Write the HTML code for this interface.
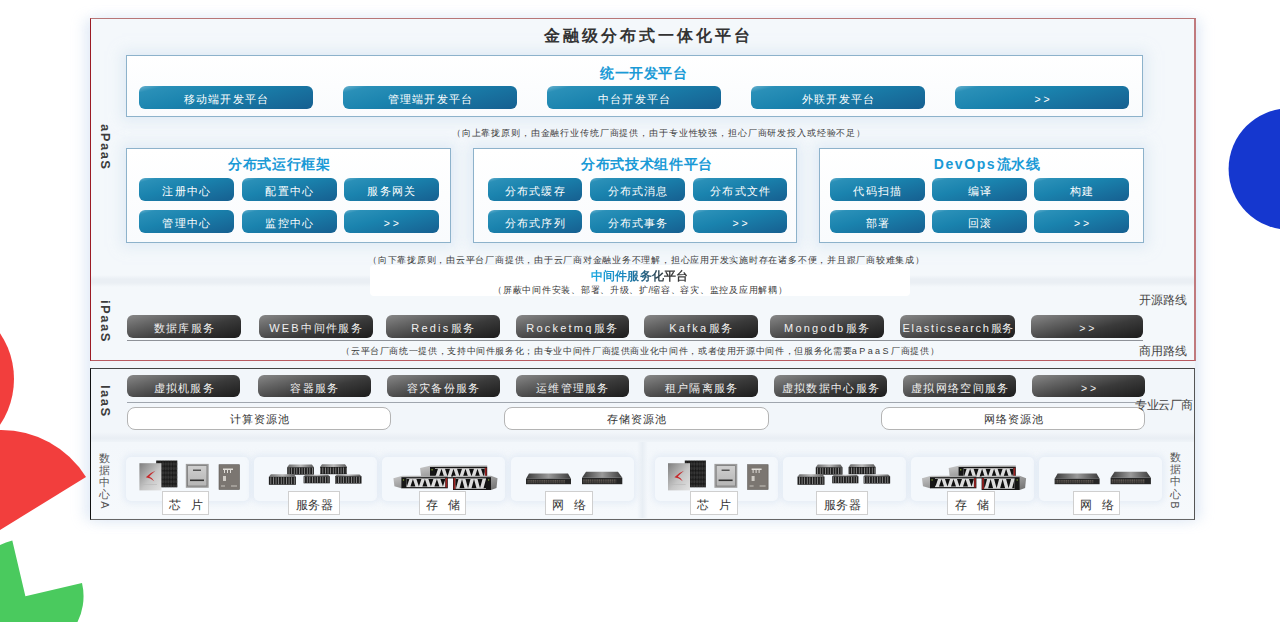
<!DOCTYPE html>
<html><head><meta charset="utf-8"><title>金融级分布式一体化平台</title>
<style>
html,body{margin:0;padding:0;}
body{width:1280px;height:622px;overflow:hidden;background:#fff;position:relative;font-family:"Liberation Sans",sans-serif;}
i{display:inline-block;font-style:normal;text-align:center;}
b.l{font-weight:inherit;}
.a{position:absolute;}
.bb,.db{position:absolute;border-radius:6px;color:#fff;font-size:11px;line-height:26px;text-align:center;white-space:nowrap;}
.bb{background:linear-gradient(165deg,#6cb3cf 0%,#2a90b8 10%,#1a83ae 40%,#165f90 100%);}
.db{color:#f0f0f0;background:linear-gradient(166deg,#888 0%,#666 25%,#3a3a3a 60%,#1c1c1c 100%);}
.ttl{position:absolute;color:#1a9ad6;font-weight:bold;font-size:14px;white-space:nowrap;text-align:center;line-height:16px;}
.note{position:absolute;color:#3a3a3a;font-size:9px;white-space:nowrap;text-align:center;line-height:11px;}
.ibox{position:absolute;border:1px solid #8db2cb;background:linear-gradient(#fff,#f9fbfd);box-shadow:0 0 12px 4px rgba(208,224,240,0.55);}
.vt{position:absolute;color:#3c3c3c;font-weight:bold;font-size:13px;letter-spacing:1.5px;transform-origin:0 0;transform:rotate(90deg);white-space:nowrap;line-height:14px;}
.vc{position:absolute;color:#555;font-size:11px;line-height:12.2px;text-align:center;width:14px;}
.pool{position:absolute;border:1px solid #b4b4b4;border-radius:8px;background:#fff;color:#333;font-size:11px;line-height:23px;text-align:center;white-space:nowrap;}
.card{position:absolute;top:457px;height:44px;border-radius:5px;background:#f4f8fc;box-shadow:0 0 6px 2px rgba(220,230,242,0.7);}
.lab{position:absolute;top:491.3px;height:21.8px;border:1px solid #cfcfcf;background:#fff;color:#333;font-size:12px;line-height:26px;text-align:center;white-space:nowrap;}
.side{position:absolute;color:#444;font-size:12px;line-height:14px;white-space:nowrap;}
</style></head><body>
<div class="a" style="left:90px;top:19px;width:1105px;height:501px;box-shadow:-6px 0 12px 0 rgba(222,232,245,0.8),6px 0 12px 0 rgba(222,232,245,0.8);background:#f1f5f9;"></div>
<div class="a" style="left:89.5px;top:18px;width:1103.5px;height:340.5px;border-style:solid;border-width:1.6px 2px 1.5px 1.5px;border-color:#b87676 #c07a7e #b85a60 #9c1c24;background:#f4f8fb;"></div>
<div class="a" style="left:90px;top:27px;width:1114.5px;text-align:center;font-size:16px;line-height:18px;font-weight:bold;color:#333;"><i style="width:19px">金</i><i style="width:19px">融</i><i style="width:19px">级</i><i style="width:19px">分</i><i style="width:19px">布</i><i style="width:19px">式</i><i style="width:19px">一</i><i style="width:19px">体</i><i style="width:19px">化</i><i style="width:19px">平</i><i style="width:19px">台</i></div>
<div class="ibox" style="left:126.2px;top:54.5px;width:1015.2px;height:60.7px;"></div>
<div class="ttl" style="left:543.5px;top:65px;width:200px;"><i style="width:14.6px">统</i><i style="width:14.6px">一</i><i style="width:14.6px">开</i><i style="width:14.6px">发</i><i style="width:14.6px">平</i><i style="width:14.6px">台</i></div>
<div class="bb" style="left:139px;top:86px;width:174px;height:23px;"><i style="width:12.3px">移</i><i style="width:12.3px">动</i><i style="width:12.3px">端</i><i style="width:12.3px">开</i><i style="width:12.3px">发</i><i style="width:12.3px">平</i><i style="width:12.3px">台</i></div>
<div class="bb" style="left:343px;top:86px;width:174px;height:23px;"><i style="width:12.3px">管</i><i style="width:12.3px">理</i><i style="width:12.3px">端</i><i style="width:12.3px">开</i><i style="width:12.3px">发</i><i style="width:12.3px">平</i><i style="width:12.3px">台</i></div>
<div class="bb" style="left:547px;top:86px;width:174px;height:23px;"><i style="width:12.3px">中</i><i style="width:12.3px">台</i><i style="width:12.3px">开</i><i style="width:12.3px">发</i><i style="width:12.3px">平</i><i style="width:12.3px">台</i></div>
<div class="bb" style="left:751px;top:86px;width:174px;height:23px;"><i style="width:12.3px">外</i><i style="width:12.3px">联</i><i style="width:12.3px">开</i><i style="width:12.3px">发</i><i style="width:12.3px">平</i><i style="width:12.3px">台</i></div>
<div class="bb" style="left:955px;top:86px;width:174px;height:23px;"><span style="font-size:10.5px">&gt; &gt;</span></div>
<div class="note" style="left:402.5px;top:127.5px;width:512px;"><i style="width:9.87px">（</i><i style="width:9.87px">向</i><i style="width:9.87px">上</i><i style="width:9.87px">靠</i><i style="width:9.87px">拢</i><i style="width:9.87px">原</i><i style="width:9.87px">则</i><i style="width:9.87px">，</i><i style="width:9.87px">由</i><i style="width:9.87px">金</i><i style="width:9.87px">融</i><i style="width:9.87px">行</i><i style="width:9.87px">业</i><i style="width:9.87px">传</i><i style="width:9.87px">统</i><i style="width:9.87px">厂</i><i style="width:9.87px">商</i><i style="width:9.87px">提</i><i style="width:9.87px">供</i><i style="width:9.87px">，</i><i style="width:9.87px">由</i><i style="width:9.87px">于</i><i style="width:9.87px">专</i><i style="width:9.87px">业</i><i style="width:9.87px">性</i><i style="width:9.87px">较</i><i style="width:9.87px">强</i><i style="width:9.87px">，</i><i style="width:9.87px">担</i><i style="width:9.87px">心</i><i style="width:9.87px">厂</i><i style="width:9.87px">商</i><i style="width:9.87px">研</i><i style="width:9.87px">发</i><i style="width:9.87px">投</i><i style="width:9.87px">入</i><i style="width:9.87px">或</i><i style="width:9.87px">经</i><i style="width:9.87px">验</i><i style="width:9.87px">不</i><i style="width:9.87px">足</i><i style="width:9.87px">）</i></div>
<div class="ibox" style="left:126.2px;top:148px;width:323.3px;height:92.6px;"></div>
<div class="ttl" style="left:129px;top:155.5px;width:300px;"><i style="width:14.7px">分</i><i style="width:14.7px">布</i><i style="width:14.7px">式</i><i style="width:14.7px">运</i><i style="width:14.7px">行</i><i style="width:14.7px">框</i><i style="width:14.7px">架</i></div>
<div class="bb" style="left:139px;top:178px;width:94.5px;height:23px;"><i style="width:12.2px">注</i><i style="width:12.2px">册</i><i style="width:12.2px">中</i><i style="width:12.2px">心</i></div>
<div class="bb" style="left:242px;top:178px;width:94.5px;height:23px;"><i style="width:12.2px">配</i><i style="width:12.2px">置</i><i style="width:12.2px">中</i><i style="width:12.2px">心</i></div>
<div class="bb" style="left:344px;top:178px;width:94.5px;height:23px;"><i style="width:12.2px">服</i><i style="width:12.2px">务</i><i style="width:12.2px">网</i><i style="width:12.2px">关</i></div>
<div class="bb" style="left:139px;top:210px;width:94.5px;height:23px;"><i style="width:12.2px">管</i><i style="width:12.2px">理</i><i style="width:12.2px">中</i><i style="width:12.2px">心</i></div>
<div class="bb" style="left:242px;top:210px;width:94.5px;height:23px;"><i style="width:12.2px">监</i><i style="width:12.2px">控</i><i style="width:12.2px">中</i><i style="width:12.2px">心</i></div>
<div class="bb" style="left:344px;top:210px;width:94.5px;height:23px;"><span style="font-size:10.5px">&gt; &gt;</span></div>
<div class="ibox" style="left:473.4px;top:148px;width:322.1px;height:92.6px;"></div>
<div class="ttl" style="left:496.70000000000005px;top:155.5px;width:300px;"><i style="width:14.7px">分</i><i style="width:14.7px">布</i><i style="width:14.7px">式</i><i style="width:14.7px">技</i><i style="width:14.7px">术</i><i style="width:14.7px">组</i><i style="width:14.7px">件</i><i style="width:14.7px">平</i><i style="width:14.7px">台</i></div>
<div class="bb" style="left:487.5px;top:178px;width:94.5px;height:23px;"><i style="width:12.2px">分</i><i style="width:12.2px">布</i><i style="width:12.2px">式</i><i style="width:12.2px">缓</i><i style="width:12.2px">存</i></div>
<div class="bb" style="left:590.3px;top:178px;width:94.5px;height:23px;"><i style="width:12.2px">分</i><i style="width:12.2px">布</i><i style="width:12.2px">式</i><i style="width:12.2px">消</i><i style="width:12.2px">息</i></div>
<div class="bb" style="left:692.8px;top:178px;width:94.5px;height:23px;"><i style="width:12.2px">分</i><i style="width:12.2px">布</i><i style="width:12.2px">式</i><i style="width:12.2px">文</i><i style="width:12.2px">件</i></div>
<div class="bb" style="left:487.5px;top:210px;width:94.5px;height:23px;"><i style="width:12.2px">分</i><i style="width:12.2px">布</i><i style="width:12.2px">式</i><i style="width:12.2px">序</i><i style="width:12.2px">列</i></div>
<div class="bb" style="left:590.3px;top:210px;width:94.5px;height:23px;"><i style="width:12.2px">分</i><i style="width:12.2px">布</i><i style="width:12.2px">式</i><i style="width:12.2px">事</i><i style="width:12.2px">务</i></div>
<div class="bb" style="left:692.8px;top:210px;width:94.5px;height:23px;"><span style="font-size:10.5px">&gt; &gt;</span></div>
<div class="ibox" style="left:819.4px;top:148px;width:322.3px;height:92.6px;"></div>
<div class="ttl" style="left:837px;top:155.5px;width:300px;"><b class="l" style="letter-spacing:1.6px">DevOps</b><i style="width:14.7px">流</i><i style="width:14.7px">水</i><i style="width:14.7px">线</i></div>
<div class="bb" style="left:830px;top:178px;width:94.5px;height:23px;"><i style="width:12.2px">代</i><i style="width:12.2px">码</i><i style="width:12.2px">扫</i><i style="width:12.2px">描</i></div>
<div class="bb" style="left:932.2px;top:178px;width:94.5px;height:23px;"><i style="width:12.2px">编</i><i style="width:12.2px">译</i></div>
<div class="bb" style="left:1034.4px;top:178px;width:94.5px;height:23px;"><i style="width:12.2px">构</i><i style="width:12.2px">建</i></div>
<div class="bb" style="left:830px;top:210px;width:94.5px;height:23px;"><i style="width:12.2px">部</i><i style="width:12.2px">署</i></div>
<div class="bb" style="left:932.2px;top:210px;width:94.5px;height:23px;"><i style="width:12.2px">回</i><i style="width:12.2px">滚</i></div>
<div class="bb" style="left:1034.4px;top:210px;width:94.5px;height:23px;"><span style="font-size:10.5px">&gt; &gt;</span></div>
<div class="a" style="left:91px;top:275px;width:1103px;height:12px;background:linear-gradient(rgba(232,237,243,0),#eaeff4 35%,#eaeff4 65%,rgba(232,237,243,0));"></div>
<div class="note" style="left:342px;top:254.5px;width:608px;"><i style="width:9.77px">（</i><i style="width:9.77px">向</i><i style="width:9.77px">下</i><i style="width:9.77px">靠</i><i style="width:9.77px">拢</i><i style="width:9.77px">原</i><i style="width:9.77px">则</i><i style="width:9.77px">，</i><i style="width:9.77px">由</i><i style="width:9.77px">云</i><i style="width:9.77px">平</i><i style="width:9.77px">台</i><i style="width:9.77px">厂</i><i style="width:9.77px">商</i><i style="width:9.77px">提</i><i style="width:9.77px">供</i><i style="width:9.77px">，</i><i style="width:9.77px">由</i><i style="width:9.77px">于</i><i style="width:9.77px">云</i><i style="width:9.77px">厂</i><i style="width:9.77px">商</i><i style="width:9.77px">对</i><i style="width:9.77px">金</i><i style="width:9.77px">融</i><i style="width:9.77px">业</i><i style="width:9.77px">务</i><i style="width:9.77px">不</i><i style="width:9.77px">理</i><i style="width:9.77px">解</i><i style="width:9.77px">，</i><i style="width:9.77px">担</i><i style="width:9.77px">心</i><i style="width:9.77px">应</i><i style="width:9.77px">用</i><i style="width:9.77px">开</i><i style="width:9.77px">发</i><i style="width:9.77px">实</i><i style="width:9.77px">施</i><i style="width:9.77px">时</i><i style="width:9.77px">存</i><i style="width:9.77px">在</i><i style="width:9.77px">诸</i><i style="width:9.77px">多</i><i style="width:9.77px">不</i><i style="width:9.77px">便</i><i style="width:9.77px">，</i><i style="width:9.77px">并</i><i style="width:9.77px">且</i><i style="width:9.77px">跟</i><i style="width:9.77px">厂</i><i style="width:9.77px">商</i><i style="width:9.77px">较</i><i style="width:9.77px">难</i><i style="width:9.77px">集</i><i style="width:9.77px">成</i><i style="width:9.77px">）</i></div>
<div class="a" style="left:370px;top:265px;width:540px;height:31px;background:#fff;border-radius:4px;"></div>
<div class="a" style="left:591px;top:269px;width:97px;text-align:center;font-size:12px;font-weight:bold;line-height:14px;white-space:nowrap;background:linear-gradient(90deg,#1ba9e2 0%,#1a86bd 35%,#245a78 58%,#333 78%,#3a3a3a 100%);-webkit-background-clip:text;background-clip:text;color:transparent;"><i style="width:12.1px">中</i><i style="width:12.1px">间</i><i style="width:12.1px">件</i><i style="width:12.1px">服</i><i style="width:12.1px">务</i><i style="width:12.1px">化</i><i style="width:12.1px">平</i><i style="width:12.1px">台</i></div>
<div class="note" style="left:370px;top:285px;width:540px;"><i style="width:9.72px">（</i><i style="width:9.72px">屏</i><i style="width:9.72px">蔽</i><i style="width:9.72px">中</i><i style="width:9.72px">间</i><i style="width:9.72px">件</i><i style="width:9.72px">安</i><i style="width:9.72px">装</i><i style="width:9.72px">、</i><i style="width:9.72px">部</i><i style="width:9.72px">署</i><i style="width:9.72px">、</i><i style="width:9.72px">升</i><i style="width:9.72px">级</i><i style="width:9.72px">、</i><i style="width:9.72px">扩</i>/<i style="width:9.72px">缩</i><i style="width:9.72px">容</i><i style="width:9.72px">、</i><i style="width:9.72px">容</i><i style="width:9.72px">灾</i><i style="width:9.72px">、</i><i style="width:9.72px">监</i><i style="width:9.72px">控</i><i style="width:9.72px">及</i><i style="width:9.72px">应</i><i style="width:9.72px">用</i><i style="width:9.72px">解</i><i style="width:9.72px">耦</i><i style="width:9.72px">）</i></div>
<div class="db" style="left:127px;top:315px;width:113.5px;height:23px;"><i style="width:12.3px">数</i><i style="width:12.3px">据</i><i style="width:12.3px">库</i><i style="width:12.3px">服</i><i style="width:12.3px">务</i></div>
<div class="db" style="left:259px;top:315px;width:113.5px;height:23px;"><b class="l" style="letter-spacing:2.2px">WEB</b><i style="width:12.3px">中</i><i style="width:12.3px">间</i><i style="width:12.3px">件</i><i style="width:12.3px">服</i><i style="width:12.3px">务</i></div>
<div class="db" style="left:386.3px;top:315px;width:113.7px;height:23px;"><b class="l" style="letter-spacing:2.2px">Redis</b><i style="width:12.3px">服</i><i style="width:12.3px">务</i></div>
<div class="db" style="left:515.6px;top:315px;width:113.2px;height:23px;"><b class="l" style="letter-spacing:2.2px">Rocketmq</b><i style="width:12.3px">服</i><i style="width:12.3px">务</i></div>
<div class="db" style="left:644.4px;top:315px;width:113.4px;height:23px;"><b class="l" style="letter-spacing:2.2px">Kafka</b><i style="width:12.3px">服</i><i style="width:12.3px">务</i></div>
<div class="db" style="left:770.3px;top:315px;width:113.5px;height:23px;"><b class="l" style="letter-spacing:2.2px">Mongodb</b><i style="width:12.3px">服</i><i style="width:12.3px">务</i></div>
<div class="db" style="left:900px;top:315px;width:115.2px;height:23px;"><b class="l" style="letter-spacing:1.75px">Elasticsearch</b><i style="width:11px">服</i><i style="width:11px">务</i></div>
<div class="db" style="left:1030.5px;top:315px;width:112.8px;height:23px;"><span style="font-size:10.5px">&gt; &gt;</span></div>
<div class="a" style="left:127px;top:339.7px;width:1016px;height:1.3px;background:#8e9298;"></div>
<div class="note" style="left:303px;top:346px;width:674px;"><i style="width:9.65px">（</i><i style="width:9.65px">云</i><i style="width:9.65px">平</i><i style="width:9.65px">台</i><i style="width:9.65px">厂</i><i style="width:9.65px">商</i><i style="width:9.65px">统</i><i style="width:9.65px">一</i><i style="width:9.65px">提</i><i style="width:9.65px">供</i><i style="width:9.65px">，</i><i style="width:9.65px">支</i><i style="width:9.65px">持</i><i style="width:9.65px">中</i><i style="width:9.65px">间</i><i style="width:9.65px">件</i><i style="width:9.65px">服</i><i style="width:9.65px">务</i><i style="width:9.65px">化</i><i style="width:9.65px">；</i><i style="width:9.65px">由</i><i style="width:9.65px">专</i><i style="width:9.65px">业</i><i style="width:9.65px">中</i><i style="width:9.65px">间</i><i style="width:9.65px">件</i><i style="width:9.65px">厂</i><i style="width:9.65px">商</i><i style="width:9.65px">提</i><i style="width:9.65px">供</i><i style="width:9.65px">商</i><i style="width:9.65px">业</i><i style="width:9.65px">化</i><i style="width:9.65px">中</i><i style="width:9.65px">间</i><i style="width:9.65px">件</i><i style="width:9.65px">，</i><i style="width:9.65px">或</i><i style="width:9.65px">者</i><i style="width:9.65px">使</i><i style="width:9.65px">用</i><i style="width:9.65px">开</i><i style="width:9.65px">源</i><i style="width:9.65px">中</i><i style="width:9.65px">间</i><i style="width:9.65px">件</i><i style="width:9.65px">，</i><i style="width:9.65px">但</i><i style="width:9.65px">服</i><i style="width:9.65px">务</i><i style="width:9.65px">化</i><i style="width:9.65px">需</i><i style="width:9.65px">要</i><b class="l" style="letter-spacing:2.4px">aPaaS</b><i style="width:9.65px">厂</i><i style="width:9.65px">商</i><i style="width:9.65px">提</i><i style="width:9.65px">供</i><i style="width:9.65px">）</i></div>
<div class="side" style="left:1139px;top:293px;"><i style="width:12px">开</i><i style="width:12px">源</i><i style="width:12px">路</i><i style="width:12px">线</i></div>
<div class="side" style="left:1139px;top:344px;"><i style="width:12px">商</i><i style="width:12px">用</i><i style="width:12px">路</i><i style="width:12px">线</i></div>
<div class="a" style="left:89.7px;top:367.6px;width:1103.5px;height:150.5px;border-style:solid;border-width:1.5px 1.5px 1.6px 1.3px;border-color:#444 #555 #666 #111;background:#f2f6fa;"></div>
<div class="a" style="left:91px;top:432px;width:1103px;height:12px;background:linear-gradient(rgba(234,240,245,0),#e9eef4 50%,rgba(234,240,245,0));"></div>
<div class="a" style="left:91px;top:442px;width:1103px;height:76px;background:linear-gradient(#f3f7fb,#f6f9fc);"></div>
<div class="a" style="left:637px;top:442px;width:11px;height:76px;background:linear-gradient(90deg,rgba(233,239,245,0),#e8eef4 50%,rgba(233,239,245,0));"></div>
<div class="db" style="left:127px;top:375px;width:113.4px;height:22px;"><i style="width:12.3px">虚</i><i style="width:12.3px">拟</i><i style="width:12.3px">机</i><i style="width:12.3px">服</i><i style="width:12.3px">务</i></div>
<div class="db" style="left:257.5px;top:375px;width:113.5px;height:22px;"><i style="width:12.3px">容</i><i style="width:12.3px">器</i><i style="width:12.3px">服</i><i style="width:12.3px">务</i></div>
<div class="db" style="left:386.6px;top:375px;width:113.1px;height:22px;"><i style="width:12.3px">容</i><i style="width:12.3px">灾</i><i style="width:12.3px">备</i><i style="width:12.3px">份</i><i style="width:12.3px">服</i><i style="width:12.3px">务</i></div>
<div class="db" style="left:515.6px;top:375px;width:113.2px;height:22px;"><i style="width:12.3px">运</i><i style="width:12.3px">维</i><i style="width:12.3px">管</i><i style="width:12.3px">理</i><i style="width:12.3px">服</i><i style="width:12.3px">务</i></div>
<div class="db" style="left:644.4px;top:375px;width:113.4px;height:22px;"><i style="width:12.3px">租</i><i style="width:12.3px">户</i><i style="width:12.3px">隔</i><i style="width:12.3px">离</i><i style="width:12.3px">服</i><i style="width:12.3px">务</i></div>
<div class="db" style="left:774px;top:375px;width:112.9px;height:22px;"><i style="width:12.3px">虚</i><i style="width:12.3px">拟</i><i style="width:12.3px">数</i><i style="width:12.3px">据</i><i style="width:12.3px">中</i><i style="width:12.3px">心</i><i style="width:12.3px">服</i><i style="width:12.3px">务</i></div>
<div class="db" style="left:903px;top:375px;width:113.3px;height:22px;"><i style="width:12.3px">虚</i><i style="width:12.3px">拟</i><i style="width:12.3px">网</i><i style="width:12.3px">络</i><i style="width:12.3px">空</i><i style="width:12.3px">间</i><i style="width:12.3px">服</i><i style="width:12.3px">务</i></div>
<div class="db" style="left:1032px;top:375px;width:113px;height:22px;"><span style="font-size:10.5px">&gt; &gt;</span></div>
<div class="a" style="left:127px;top:401.5px;width:1018px;height:1.5px;background:#a0a6ae;"></div>
<div class="pool" style="left:127px;top:406.5px;width:262.3px;height:21.5px;"><i style="width:12px">计</i><i style="width:12px">算</i><i style="width:12px">资</i><i style="width:12px">源</i><i style="width:12px">池</i></div>
<div class="pool" style="left:503.7px;top:406.5px;width:263px;height:21.5px;"><i style="width:12px">存</i><i style="width:12px">储</i><i style="width:12px">资</i><i style="width:12px">源</i><i style="width:12px">池</i></div>
<div class="pool" style="left:880.7px;top:406.5px;width:262.8px;height:21.5px;"><i style="width:12px">网</i><i style="width:12px">络</i><i style="width:12px">资</i><i style="width:12px">源</i><i style="width:12px">池</i></div>
<div class="side" style="left:1135px;top:398px;"><i style="width:11.6px">专</i><i style="width:11.6px">业</i><i style="width:11.6px">云</i><i style="width:11.6px">厂</i><i style="width:11.6px">商</i></div>
<div class="vt" style="left:112px;top:124px;">aPaaS</div>
<div class="vt" style="left:112px;top:300px;">iPaaS</div>
<div class="vt" style="left:112px;top:385px;">IaaS</div>
<div class="card" style="left:126px;width:123px;"></div>
<div class="card" style="left:254px;width:123px;"></div>
<div class="card" style="left:382px;width:123px;"></div>
<div class="card" style="left:510.7px;width:123px;"></div>
<div class="card" style="left:654.6px;width:123px;"></div>
<div class="card" style="left:782.6px;width:123px;"></div>
<div class="card" style="left:910.5px;width:123px;"></div>
<div class="card" style="left:1039px;width:123px;"></div>
<svg class="a" style="left:0;top:0" width="1280" height="622"><defs>
<linearGradient id="glid" x1="0" y1="0" x2="1" y2="0"><stop offset="0" stop-color="#6a6a6a"/><stop offset="0.5" stop-color="#b8b8b8"/><stop offset="1" stop-color="#5a5a5a"/></linearGradient>
<linearGradient id="gside" x1="0" y1="0" x2="1" y2="1"><stop offset="0" stop-color="#c8c8c8"/><stop offset="1" stop-color="#6e6e6e"/></linearGradient>
<linearGradient id="gsilver" x1="0" y1="0" x2="1" y2="1"><stop offset="0" stop-color="#7e7e7e"/><stop offset="0.55" stop-color="#c6c6c6"/><stop offset="1" stop-color="#e2e2e2"/></linearGradient>
<linearGradient id="gchip3" x1="0" y1="0" x2="0" y2="1"><stop offset="0" stop-color="#cfcfcf"/><stop offset="1" stop-color="#b5b5b5"/></linearGradient>
<linearGradient id="gsw" x1="0" y1="0" x2="1" y2="0"><stop offset="0" stop-color="#3a3a3a"/><stop offset="0.5" stop-color="#9a9a9a"/><stop offset="1" stop-color="#3a3a3a"/></linearGradient>
<pattern id="pstripe" width="2.6" height="10" patternUnits="userSpaceOnUse"><rect width="0.9" height="10" fill="#8a8a8a"/></pattern>
<pattern id="pgrid" width="2.7" height="4.4" patternUnits="userSpaceOnUse"><rect x="0.5" y="0.4" width="0.9" height="3.4" fill="#4e4e4e"/><rect x="1.6" y="1.2" width="0.6" height="1.6" fill="#3a3a3a"/></pattern>
<pattern id="pport" width="2.2" height="3" patternUnits="userSpaceOnUse"><rect x="0.3" y="0.3" width="1.4" height="1.1" fill="#7a7066"/><rect x="0.3" y="1.7" width="1.4" height="1" fill="#5e5750"/></pattern>
</defs><g id="dcA"><rect x="156.2" y="460.6" width="21.1" height="26.7" fill="#181818"/><rect x="156.2" y="460.6" width="21.1" height="26.7" fill="url(#pgrid)"/><rect x="139.4" y="463.2" width="22" height="27.2" fill="url(#gsilver)"/><path d="M155.4 470.8 Q149.5 473 145.8 477.2 Q150.5 477.6 154.2 481.2 Q152.2 477.4 149.2 476.4 Q152 473.8 155.4 470.8 Z" fill="#c62a2c"/><rect x="143" y="484" width="14" height="0.6" fill="#b8b8b8"/><rect x="185.8" y="463.9" width="22.9" height="23.9" fill="#9e9e9e"/><rect x="187.6" y="465.7" width="19.3" height="20.3" fill="url(#gchip3)" stroke="#6e6e6e" stroke-width="0.6"/><rect x="193" y="469.5" width="8" height="1.5" fill="#555"/><rect x="190" y="479.5" width="14" height="1.6" fill="#333"/><rect x="219" y="464.7" width="20.5" height="24.8" fill="#7b7671" stroke="#5e5a56" stroke-width="0.6"/><rect x="223" y="468.5" width="10" height="1.5" fill="#e0ddd8"/><rect x="224" y="470" width="1" height="3" fill="#e0ddd8"/><rect x="227" y="470" width="1" height="3" fill="#e0ddd8"/><rect x="230" y="470" width="1" height="3" fill="#e0ddd8"/><rect x="223" y="476" width="3" height="5" fill="#d0ccc6"/><rect x="221" y="485.5" width="4" height="1" fill="#c8c4be"/><rect x="231" y="485.5" width="6" height="1" fill="#c8c4be"/><path d="M289.2 464.6 L311.9 464.6 L313.9 467.2 L287.2 467.2 Z" fill="url(#glid)"/><rect x="287.2" y="467.2" width="26.7" height="7.5" fill="#1c1c1c"/><rect x="287.2" y="467.7" width="26.7" height="6.5" fill="url(#pstripe)"/><path d="M322.0 464.2 L345.0 464.2 L347.0 467.0 L320.0 467.0 Z" fill="url(#glid)"/><rect x="320.0" y="467.0" width="27.0" height="7.2" fill="#1c1c1c"/><rect x="320.0" y="467.5" width="27.0" height="6.2" fill="url(#pstripe)"/><path d="M270.9 474.2 L293.9 474.2 L295.9 476.7 L268.9 476.7 Z" fill="url(#glid)"/><rect x="268.9" y="476.7" width="27.0" height="8.1" fill="#1c1c1c"/><rect x="268.9" y="477.2" width="27.0" height="7.1" fill="url(#pstripe)"/><path d="M305.6 474.7 L327.8 474.7 L329.8 476.2 L303.6 476.2 Z" fill="url(#glid)"/><rect x="303.6" y="476.2" width="26.2" height="7.1" fill="#1c1c1c"/><rect x="303.6" y="476.7" width="26.2" height="6.1" fill="url(#pstripe)"/><path d="M337.0 474.4 L359.5 474.4 L361.5 476.2 L335.0 476.2 Z" fill="url(#glid)"/><rect x="335.0" y="476.2" width="26.5" height="7.4" fill="#1c1c1c"/><rect x="335.0" y="476.7" width="26.5" height="6.4" fill="url(#pstripe)"/><path d="M420.1 468.0 L431.0 465.5 L487.2 465.5 L487.2 467.0 L430.0 478.4 L421.1 476.4 Z" fill="url(#gside)"/><rect x="430.0" y="467.0" width="57.2" height="11.4" fill="#161616"/><rect x="435.0" y="468.2" width="49.7" height="9.0" fill="#dcdcdc"/><clipPath id="c430"><rect x="435.0" y="468.2" width="49.7" height="9.0"/></clipPath><path d="M433.0 468.8 L438.0 468.8 L435.5 476.6 Z M439.0 476.6 L444.0 476.6 L441.5 468.8 Z M445.0 468.8 L450.0 468.8 L447.5 476.6 Z M451.0 476.6 L456.0 476.6 L453.5 468.8 Z M457.0 468.8 L462.0 468.8 L459.5 476.6 Z M463.0 476.6 L468.0 476.6 L465.5 468.8 Z M469.0 468.8 L474.0 468.8 L471.5 476.6 Z M475.0 476.6 L480.0 476.6 L477.5 468.8 Z M481.0 468.8 L486.0 468.8 L483.5 476.6 Z M487.0 476.6 L492.0 476.6 L489.5 468.8 Z " fill="#101010" clip-path="url(#c430)"/><rect x="485.0" y="467.8" width="1.6" height="9.8" fill="#a02020"/><rect x="431.5" y="469.0" width="1.2" height="1.5" fill="#7c9a3a"/><path d="M393.4 478.2 L402.4 475.7 L447.8 475.7 L447.8 477.2 L401.4 488.3 L394.4 486.3 Z" fill="url(#gside)"/><rect x="401.4" y="477.2" width="46.4" height="11.1" fill="#161616"/><rect x="406.4" y="478.4" width="38.9" height="8.7" fill="#dcdcdc"/><clipPath id="c401"><rect x="406.4" y="478.4" width="38.9" height="8.7"/></clipPath><path d="M404.4 479.0 L409.4 479.0 L406.9 486.5 Z M410.4 486.5 L415.4 486.5 L412.9 479.0 Z M416.4 479.0 L421.4 479.0 L418.9 486.5 Z M422.4 486.5 L427.4 486.5 L424.9 479.0 Z M428.4 479.0 L433.4 479.0 L430.9 486.5 Z M434.4 486.5 L439.4 486.5 L436.9 479.0 Z M440.4 479.0 L445.4 479.0 L442.9 486.5 Z M446.4 486.5 L451.4 486.5 L448.9 479.0 Z " fill="#101010" clip-path="url(#c401)"/><rect x="445.6" y="478.0" width="1.6" height="9.5" fill="#a02020"/><rect x="402.9" y="479.2" width="1.2" height="1.5" fill="#7c9a3a"/><path d="M453.0 475.7 L491.0 475.7 L497.5 478.2 L496.5 488.0 L491.0 490.0 L453.0 477.2 Z" fill="url(#gside)"/><rect x="453.0" y="477.2" width="38.0" height="12.8" fill="#161616"/><rect x="455.5" y="478.4" width="30.5" height="10.4" fill="#dcdcdc"/><clipPath id="c453"><rect x="455.5" y="478.4" width="30.5" height="10.4"/></clipPath><path d="M453.5 479.0 L458.5 479.0 L456.0 488.2 Z M459.5 488.2 L464.5 488.2 L462.0 479.0 Z M465.5 479.0 L470.5 479.0 L468.0 488.2 Z M471.5 488.2 L476.5 488.2 L474.0 479.0 Z M477.5 479.0 L482.5 479.0 L480.0 488.2 Z M483.5 488.2 L488.5 488.2 L486.0 479.0 Z " fill="#101010" clip-path="url(#c453)"/><rect x="453.6" y="478.0" width="1.6" height="11.2" fill="#a02020"/><rect x="488.0" y="479.2" width="1.2" height="1.5" fill="#7c9a3a"/><path d="M529 473.6 L568 473.6 L571 478.7 L526 478.7 Z" fill="url(#gsw)"/><rect x="526" y="478.7" width="45.0" height="5.5" fill="#262626"/><rect x="527" y="479.9" width="38.0" height="3.3" fill="url(#pport)"/><path d="M586 471.7 L618 471.7 L622.3 477.8 L582 477.8 Z" fill="url(#gsw)"/><rect x="582" y="477.8" width="40.3" height="6.4" fill="#262626"/><rect x="583" y="479.0" width="33.3" height="4.2" fill="url(#pport)"/></g><use href="#dcA" transform="translate(528.6,0)"/></svg>
<div class="lab" style="left:162.4px;width:45.1px;"><i style="width:11px">芯</i><i style="width:11px">&nbsp;</i><i style="width:11px">片</i></div>
<div class="lab" style="left:288.2px;width:50.2px;"><i style="width:12.5px">服</i><i style="width:12.5px">务</i><i style="width:12.5px">器</i></div>
<div class="lab" style="left:418.8px;width:45.6px;"><i style="width:11px">存</i><i style="width:11px">&nbsp;</i><i style="width:11px">储</i></div>
<div class="lab" style="left:545px;width:45.7px;"><i style="width:11px">网</i><i style="width:11px">&nbsp;</i><i style="width:11px">络</i></div>
<div class="lab" style="left:690px;width:45.6px;"><i style="width:11px">芯</i><i style="width:11px">&nbsp;</i><i style="width:11px">片</i></div>
<div class="lab" style="left:816.4px;width:49.5px;"><i style="width:12.5px">服</i><i style="width:12.5px">务</i><i style="width:12.5px">器</i></div>
<div class="lab" style="left:947.3px;width:45.5px;"><i style="width:11px">存</i><i style="width:11px">&nbsp;</i><i style="width:11px">储</i></div>
<div class="lab" style="left:1073.4px;width:44.9px;"><i style="width:11px">网</i><i style="width:11px">&nbsp;</i><i style="width:11px">络</i></div>
<div class="vc" style="left:97.5px;top:451.5px;"><div>数</div><div>据</div><div>中</div><div>心</div><div style="transform:rotate(90deg);height:10px;line-height:10px;margin-top:0px">A</div></div>
<div class="vc" style="left:1168px;top:451px;"><div>数</div><div>据</div><div>中</div><div>心</div><div style="transform:rotate(90deg);height:10px;line-height:10px;margin-top:0px">B</div></div>
<svg class="a" style="left:0;top:0" width="1280" height="622">
  <circle cx="1289.3" cy="169" r="60.7" fill="#1537cf"/>
  <circle cx="-68" cy="379" r="82" fill="#f23e3d"/>
  <path d="M0 530 L0 430 A100 100 0 0 1 86 477 Z" fill="#f23e3d"/>
  <path d="M25.4 596.2 L12.3 540.5 A57.5 57.5 0 1 0 82 583.1 Z" fill="#4aca5e"/>
</svg>
</body></html>
